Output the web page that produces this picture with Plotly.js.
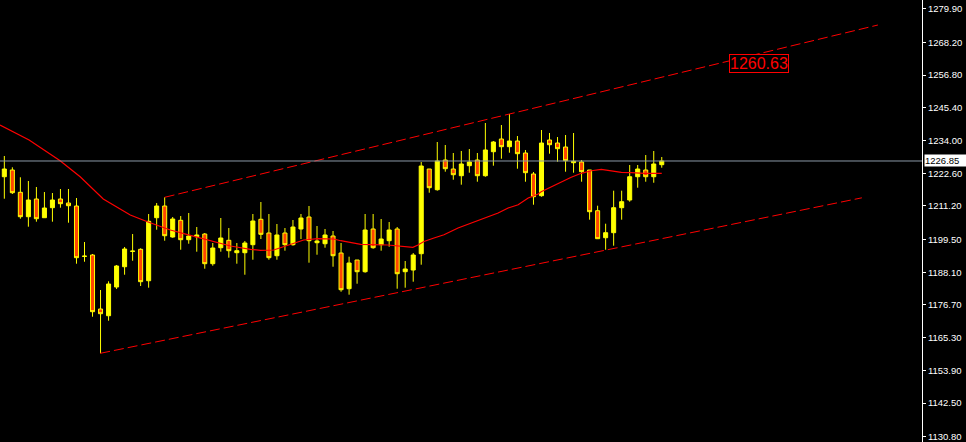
<!DOCTYPE html>
<html>
<head>
<meta charset="utf-8">
<script src="https://cdn.plot.ly/plotly-3.0.1.min.js"></script>
<style>
  html, body { margin: 0; padding: 0; background: #000; }
  #chart { width: 966px; height: 442px; }
</style>
</head>
<body>
<div id="chart"></div>
<script>
// Candle OHLC values, in bar order
const open = [1221.37, 1223.71, 1215.94, 1207.44, 1213.61, 1207.09, 1210.58, 1213.61, 1212.21, 1211.17,
 1193.60, 1194.10, 1175.29, 1172.95, 1182.95, 1190.02, 1195.35, 1196.08, 1185.14, 1207.09,
 1211.17, 1200.37, 1206.19, 1199.43, 1200.47, 1201.41, 1191.07, 1196.64, 1199.22, 1194.90,
 1194.90, 1197.69, 1206.54, 1201.76, 1193.85, 1201.76, 1197.69, 1203.16, 1207.34, 1198.38,
 1198.03, 1200.72, 1194.79, 1182.36, 1192.36, 1188.28, 1203.16, 1197.69, 1199.08, 1203.16,
 1188.28, 1188.87, 1194.55, 1224.06, 1216.85, 1227.19, 1224.06, 1221.72, 1225.21, 1227.19,
 1221.72, 1230.08, 1234.51, 1231.83, 1233.81, 1229.63, 1222.32, 1214.76, 1234.16, 1233.11,
 1231.72, 1226.25, 1226.50, 1223.71, 1209.53, 1200.12, 1201.87, 1210.58, 1213.26, 1221.37,
 1223.71, 1221.37, 1225.56];
const high = [1228.59, 1224.65, 1221.17, 1219.88, 1217.79, 1216.04, 1215.70, 1217.09, 1217.09, 1213.95,
 1198.63, 1194.45, 1181.91, 1184.94, 1190.62, 1196.89, 1201.41, 1196.43, 1208.38, 1212.21,
 1214.20, 1207.34, 1207.68, 1208.73, 1203.85, 1201.76, 1198.28, 1206.99, 1203.50, 1198.28,
 1198.98, 1208.38, 1212.56, 1208.38, 1204.90, 1203.50, 1206.29, 1208.38, 1211.17, 1204.20,
 1203.16, 1202.46, 1198.28, 1193.51, 1192.36, 1208.38, 1208.38, 1206.64, 1205.59, 1203.85,
 1192.01, 1194.79, 1226.50, 1224.06, 1233.46, 1232.42, 1229.63, 1230.33, 1231.02, 1229.63,
 1240.08, 1233.81, 1239.38, 1243.22, 1235.55, 1230.68, 1223.01, 1237.64, 1236.60, 1235.20,
 1235.90, 1236.60, 1227.19, 1223.71, 1211.27, 1205.00, 1216.50, 1216.50, 1225.45, 1225.45,
 1228.93, 1230.33, 1228.24];
const low = [1213.71, 1215.35, 1206.74, 1203.96, 1205.70, 1207.09, 1205.70, 1210.58, 1205.35, 1191.07,
 1191.76, 1172.60, 1159.85, 1171.21, 1182.25, 1187.23, 1192.11, 1183.30, 1182.71, 1202.91,
 1199.08, 1200.12, 1195.94, 1198.03, 1195.25, 1189.33, 1190.37, 1195.25, 1193.16, 1191.07,
 1187.23, 1192.46, 1199.67, 1192.46, 1192.46, 1195.60, 1197.34, 1199.67, 1191.42, 1194.20,
 1196.64, 1190.02, 1181.31, 1180.27, 1184.10, 1187.93, 1196.29, 1195.60, 1196.99, 1182.36,
 1182.71, 1184.80, 1190.72, 1215.80, 1216.50, 1223.12, 1220.33, 1218.59, 1222.77, 1219.63,
 1221.37, 1225.21, 1227.64, 1229.74, 1224.16, 1219.63, 1211.62, 1214.41, 1229.39, 1226.60,
 1223.12, 1222.77, 1219.63, 1206.40, 1199.78, 1195.94, 1197.34, 1206.40, 1212.67, 1217.54,
 1219.63, 1219.28, 1224.51];
const close = [1224.06, 1215.80, 1207.44, 1213.26, 1206.74, 1210.47, 1213.26, 1211.97, 1211.27, 1193.16,
 1193.70, 1174.35, 1173.65, 1184.00, 1190.27, 1196.19, 1195.45, 1184.80, 1205.84, 1211.17,
 1200.82, 1206.64, 1199.43, 1200.72, 1201.07, 1191.07, 1196.54, 1200.02, 1195.60, 1195.60,
 1198.28, 1205.94, 1201.31, 1193.16, 1201.07, 1197.69, 1203.85, 1206.99, 1199.08, 1198.98,
 1201.07, 1193.85, 1182.01, 1191.31, 1188.28, 1202.81, 1196.64, 1199.67, 1202.81, 1187.58,
 1189.22, 1194.10, 1225.10, 1217.54, 1226.84, 1224.16, 1222.07, 1225.80, 1226.50, 1221.72,
 1230.68, 1233.46, 1231.83, 1233.81, 1229.39, 1222.77, 1214.41, 1233.11, 1232.52, 1231.13,
 1226.95, 1226.74, 1223.12, 1209.18, 1199.78, 1201.87, 1210.58, 1212.67, 1221.37, 1224.06,
 1221.37, 1225.80, 1226.84];

// Moving average: bar position and value
const maX = [-0.54, 3.09, 6.96, 9.46, 12.34, 15.71, 17.84, 19.46, 20.71, 23.21, 25.71, 28.21, 30.71,
 31.96, 33.59, 34.84, 36.09, 37.34, 39.09, 41.09, 41.96, 43.59, 44.46, 47.84, 49.84, 50.96, 51.59,
 52.34, 53.59, 54.84, 56.59, 58.21, 59.84, 61.59, 62.84, 64.09, 65.34, 66.59, 66.96, 68.21, 69.46,
 70.71, 71.96, 73.21, 74.46, 75.71, 76.96, 78.21, 79.84, 82];
const maY = [1239.38, 1234.16, 1226.95, 1221.37, 1213.61, 1208.03, 1205.70, 1203.96, 1202.81, 1200.96,
 1198.98, 1197.23, 1196.08, 1195.74, 1195.84, 1196.99, 1198.38, 1199.32, 1199.78, 1199.67, 1199.08,
 1198.17, 1197.83, 1197.58, 1197.13, 1196.78, 1197.58, 1198.80, 1200.02, 1201.17, 1203.50, 1205.24,
 1206.99, 1208.73, 1210.47, 1211.62, 1213.95, 1215.35, 1216.15, 1217.89, 1219.63, 1221.17, 1222.56,
 1223.46, 1223.95, 1223.46, 1222.91, 1222.77, 1222.56, 1222.56];

// Channel trend lines
const upperX = [20, 108.96];
const upperY = [1214.20, 1274.22];
const lowerX = [11.96, 106.96];
const lowerY = [1159.85, 1214.02];

// Price marker label on chart
const markLabel = ["1260.63"];
const markX = [94.1];
const markY = [1260.8];

// Current price line
const lastPrice = [1226.85];
const lastPriceText = ["1226.85"];

// Y axis ticks
const tickVals = [1279.90, 1268.20, 1256.80, 1245.40, 1234.00, 1222.60, 1211.20, 1199.50, 1188.10,
 1176.70, 1165.30, 1153.90, 1142.50, 1130.80];
const tickText = ["1279.90", "1268.20", "1256.80", "1245.40", "1234.00", "1222.60", "1211.20", "1199.50",
 "1188.10", "1176.70", "1165.30", "1153.90", "1142.50", "1130.80"];

const barX = open.map((_, i) => i);

const traces = [
  {
    type: 'candlestick',
    x: barX, open: open, high: high, low: low, close: close,
    increasing: { line: { color: '#ffff00', width: 1 }, fillcolor: '#ffff00' },
    decreasing: { line: { color: '#ffff00', width: 1 }, fillcolor: '#ff4500' },
    whiskerwidth: 0,
    hoverinfo: 'skip',
    showlegend: false
  },
  {
    type: 'scatter', mode: 'lines', x: maX, y: maY,
    line: { color: '#ff0000', width: 1.2 }, hoverinfo: 'skip', showlegend: false
  },
  {
    type: 'scatter', mode: 'lines', x: upperX, y: upperY,
    line: { color: '#ff0000', width: 1, dash: '10px,4px' }, hoverinfo: 'skip', showlegend: false
  },
  {
    type: 'scatter', mode: 'lines', x: lowerX, y: lowerY,
    line: { color: '#ff0000', width: 1, dash: '10px,4px' }, hoverinfo: 'skip', showlegend: false
  }
];

const layout = {
  width: 966, height: 442,
  paper_bgcolor: '#000000', plot_bgcolor: '#000000',
  margin: { l: 0, r: 44, t: 0, b: 0, pad: 0 },
  showlegend: false,
  boxgap: 0.28,
  xaxis: {
    range: [-0.54, 114.46], showgrid: false, zeroline: false, showticklabels: false,
    showline: false, ticks: '', rangeslider: { visible: false }, fixedrange: true
  },
  yaxis: {
    side: 'right', range: [1128.96, 1282.93], showgrid: false, zeroline: false,
    showline: true, linecolor: '#ffffff', linewidth: 1,
    ticks: 'outside', ticklen: 3, tickcolor: '#ffffff', tickwidth: 1,
    tickmode: 'array', tickvals: tickVals, ticktext: tickText,
    ticklabeloverflow: 'allow',
    tickfont: { family: 'Liberation Sans, Arial, sans-serif', size: 9.5, color: '#ffffff' },
    fixedrange: true
  },
  shapes: [
    {
      type: 'line', xref: 'paper', x0: 0, x1: 1, yref: 'y', y0: lastPrice[0], y1: lastPrice[0],
      line: { color: '#8a99a6', width: 1 }
    }
  ],
  annotations: [
    {
      x: markX[0], y: markY[0], xref: 'x', yref: 'y', text: markLabel[0], showarrow: false,
      font: { family: 'Liberation Sans, Arial, sans-serif', size: 16, color: '#ff0000' },
      bordercolor: '#ff0000', borderwidth: 1, borderpad: 0, bgcolor: '#000000',
      xanchor: 'center', yanchor: 'middle'
    },
    {
      x: 1, y: lastPrice[0], xref: 'paper', yref: 'y', text: lastPriceText[0], showarrow: false,
      font: { family: 'Liberation Sans, Arial, sans-serif', size: 9.5, color: '#000000' },
      bgcolor: '#ffffff', borderpad: 0, width: 42, height: 11, align: 'left',
      xanchor: 'left', yanchor: 'middle', xshift: 2
    }
  ]
};

Plotly.newPlot('chart', traces, layout, { displayModeBar: false, staticPlot: true });
</script>
</body>
</html>
